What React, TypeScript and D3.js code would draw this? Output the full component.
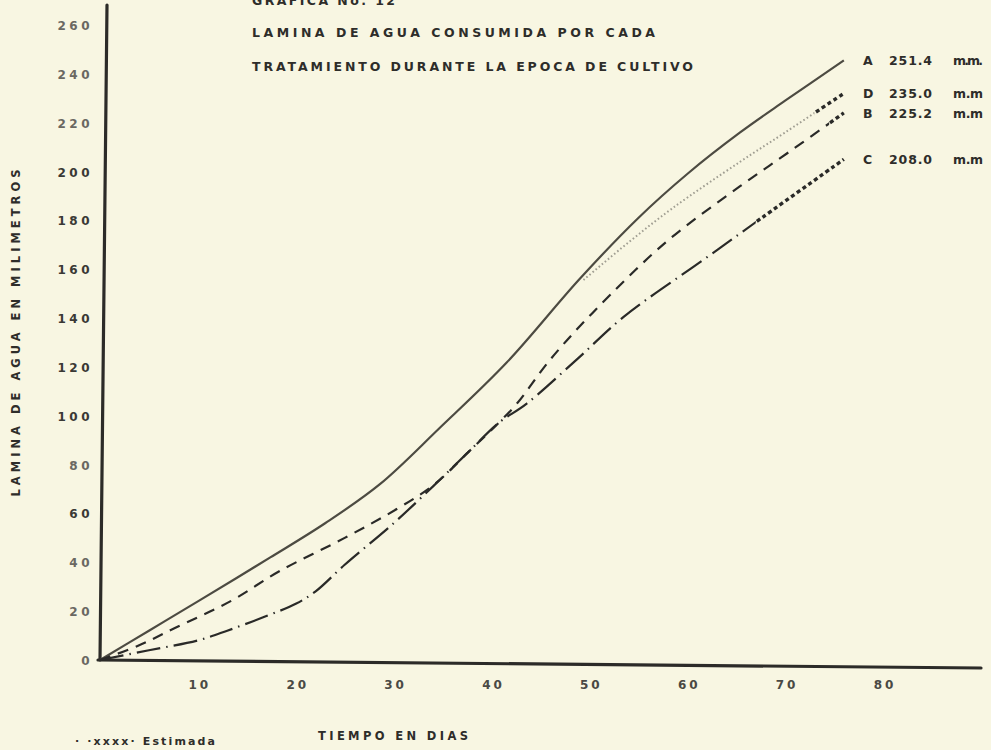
import React from 'react';
import * as d3 from 'd3';

const W = 991;
const H = 750;

// Tick labels
const xTickValues = [10, 20, 30, 40, 50, 60, 70, 80];
const yTickValues = [0, 20, 40, 60, 80, 100, 120, 140, 160, 180, 200, 220, 240, 260];

// Series A (solid)
const daysA = [0, 5, 10, 17.4, 23, 28.6, 34.7, 41.6, 49, 55, 60, 65.4, 70, 76];
const lamA = [0, 12, 24, 42, 56, 72, 95, 122, 156, 181, 199, 216, 229, 245.5];

// Series D (dotted) — separates from A near day 49
const daysD = [49.4, 54, 58.5, 65.4, 70, 76];
const lamD = [155.6, 171, 185, 204, 216, 232];

// Series B (short dashes)
const daysB = [0, 4, 7.6, 13.3, 18.4, 25, 30.4, 34.2, 37.6, 40.7, 42.6, 46, 50.3, 57.8, 65.4, 70.4, 76];
const lamB = [0, 6, 13, 24, 36.5, 50, 62, 72, 85, 97, 105, 123, 142, 171, 194, 208, 224];

// Series C (long dash - dot)
const daysC = [0, 5, 10, 13, 17, 20, 22, 25, 30, 34, 37.6, 40.7, 43.6, 48.7, 53.5, 61.7, 67.6, 76];
const lamC = [0, 4, 8, 12, 18, 23, 28, 39, 56, 71, 85, 97, 105, 123, 140.5, 164, 181, 205];

const seriesNames = ['A', 'D', 'B', 'C'];
const seriesTotals = ['251.4', '235.0', '225.2', '208.0'];
const seriesUnits = ['m.m.', 'm.m', 'm.m', 'm.m'];
const estimatedFrom = [null, 73, 74.5, 67];

const titleLines = ['GRAFICA No. 12', 'LAMINA DE AGUA CONSUMIDA POR CADA', 'TRATAMIENTO DURANTE LA EPOCA DE CULTIVO'];
const yAxisTitle = 'LAMINA DE AGUA EN MILIMETROS';
const xAxisTitle = 'TIEMPO  EN  DIAS';
const noteText = '· ·xxxx· Estimada';

const BG = '#f8f6e2';
const INK = '#2e2d2a';
const FONT = '"DejaVu Sans", "Liberation Sans", sans-serif';

export default function App() {
  const x = d3.scaleLinear().domain([0, 80]).range([100, 883]);
  const y = d3.scaleLinear().domain([0, 260]).range([660, 25]);

  const line = d3
    .line<[number, number]>()
    .x((d) => x(d[0]))
    .y((d) => y(d[1]))
    .curve(d3.curveCatmullRom.alpha(0.5));

  const zip = (a: number[], b: number[]) => a.map((d, i) => [d, b[i]] as [number, number]);

  const series = [
    { pts: zip(daysA, lamA), stroke: '#4d4b42', width: 2.2, dash: undefined as string | undefined },
    { pts: zip(daysD, lamD), stroke: '#a09e92', width: 2, dash: '1.6,2.4' },
    { pts: zip(daysB, lamB), stroke: '#2a2a28', width: 2.2, dash: '11,8' },
    { pts: zip(daysC, lamC), stroke: '#2a2a28', width: 2.2, dash: '24,6,1.5,6' },
  ];

  React.useEffect(() => {
    document.body.style.margin = '0';
    document.body.style.background = BG;
  }, []);

  return (
    <svg
      width={W}
      height={H}
      viewBox={`0 0 ${W} ${H}`}
      style={{ position: 'absolute', left: 0, top: 0, background: BG, fontFamily: FONT }}
    >
      <rect x={0} y={0} width={W} height={H} fill={BG} />
      <defs>
        {series.map((s, i) =>
          estimatedFrom[i] != null ? (
            <React.Fragment key={i}>
              <clipPath id={`reg${i}`}>
                <rect x={0} y={0} width={x(estimatedFrom[i] as number)} height={H} />
              </clipPath>
              <clipPath id={`est${i}`}>
                <rect x={x(estimatedFrom[i] as number)} y={0} width={W} height={H} />
              </clipPath>
            </React.Fragment>
          ) : null
        )}
      </defs>

      {/* Title (first line is cropped at the top edge, as in the scan) */}
      <text x={252} y={5} fontSize={12.5} fontWeight="bold" fill={INK} textLength={143} lengthAdjust="spacing">
        {titleLines[0]}
      </text>
      <text x={252} y={37} fontSize={12.5} fontWeight="bold" fill={INK} textLength={403} lengthAdjust="spacing">
        {titleLines[1]}
      </text>
      <text x={252} y={71} fontSize={12.5} fontWeight="bold" fill={INK} textLength={441} lengthAdjust="spacing">
        {titleLines[2]}
      </text>

      {/* Axes */}
      <line x1={100} y1={660} x2={107} y2={5} stroke="#2c2b28" strokeWidth={3.2} strokeLinecap="round" />
      <line x1={98} y1={660} x2={981} y2={668} stroke="#2c2b28" strokeWidth={3.2} strokeLinecap="round" />

      {/* Y tick labels */}
      {yTickValues.map((v) => (
        <text
          key={v}
          x={93}
          y={y(v) + 5}
          fontSize={12}
          fontWeight="bold"
          textAnchor="end"
          letterSpacing={3.5}
          fill={v >= 220 || v === 80 || v === 40 || v === 20 || v === 0 ? '#6a6862' : '#3a3935'}
        >
          {v}
        </text>
      ))}

      {/* X tick labels */}
      {xTickValues.map((v) => (
        <text
          key={v}
          x={x(v) + 2}
          y={689}
          fontSize={12}
          fontWeight="bold"
          textAnchor="middle"
          letterSpacing={3}
          fill="#4a4944"
        >
          {v}
        </text>
      ))}

      {/* Axis titles */}
      <text
        transform={`translate(20, ${333}) rotate(-90)`}
        fontSize={11.5}
        fontWeight="bold"
        textAnchor="middle"
        fill={INK}
        textLength={327}
        lengthAdjust="spacing"
      >
        {yAxisTitle}
      </text>
      <text x={318} y={740} fontSize={11.5} fontWeight="bold" fill={INK} textLength={150} lengthAdjust="spacing">
        {xAxisTitle}
      </text>
      <text x={75} y={745} fontSize={11} fontWeight="bold" fill={INK} textLength={140} lengthAdjust="spacing">
        {noteText}
      </text>

      {/* Series */}
      {series.map((s, i) => {
        const d = line(s.pts) || '';
        if (estimatedFrom[i] == null) {
          return (
            <path key={i} d={d} fill="none" stroke={s.stroke} strokeWidth={s.width} strokeDasharray={s.dash} />
          );
        }
        return (
          <g key={i}>
            <path
              d={d}
              fill="none"
              stroke={s.stroke}
              strokeWidth={s.width}
              strokeDasharray={s.dash}
              clipPath={`url(#reg${i})`}
            />
            <path
              d={d}
              fill="none"
              stroke="#2a2a28"
              strokeWidth={3.4}
              strokeDasharray="4,3"
              clipPath={`url(#est${i})`}
            />
          </g>
        );
      })}

      {/* End labels */}
      {series.map((s, i) => {
        const last = s.pts[s.pts.length - 1];
        const yy = y(last[1]) + 5;
        return (
          <g key={`lab${i}`} fontSize={12.5} fontWeight="bold" fill={INK}>
            <text x={863} y={yy}>{seriesNames[i]}</text>
            <text x={889} y={yy} textLength={43} lengthAdjust="spacing">{seriesTotals[i]}</text>
            <text x={953} y={yy} textLength={30} lengthAdjust="spacing">{seriesUnits[i]}</text>
          </g>
        );
      })}
    </svg>
  );
}
